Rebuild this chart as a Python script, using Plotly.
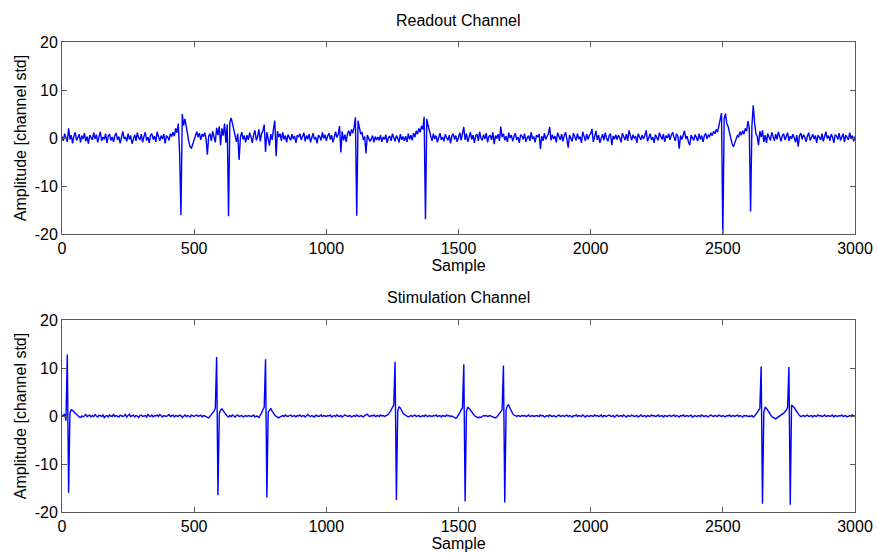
import plotly.graph_objects as go
from plotly.subplots import make_subplots

# Sample spacing of the stored traces (one value every 5 samples)
STEP = 5

# Readout channel amplitude, in units of channel std, samples 0..3000
readout = [
    0.3, -0.6, 0.9, 0.2, -0.8, 2.0, -0.3, 0.6, -1.1, 0.4, 1.2, -0.5, 0.1, 0.8, -0.9, 0.5, -0.2, 1.0, -0.7, 0.3,
    -1.2, 0.6, 0.1, -0.4, 1.1, -0.2, 0.7, -0.9, 0.3, 1.3, -0.6, 0.2, -0.3, 0.9, -1.0, 0.4, 0.8, -0.5, 0.2, -0.8,
    0.5, 1.0, -0.4, 0.3, -1.1, 0.6, 1.4, -0.2, 0.2, -0.7, 0.9, -0.3, 0.5, -1.2, 0.1, 0.7, -0.6, 1.1, 0.0, -0.4,
    0.8, -0.9, 0.3, 1.2, -0.5, 0.2, -1.0, 0.6, 0.9, -0.3, 0.4, -0.8, 1.3, 0.1, -0.6, 0.5, -0.2, 0.8, -1.1, 0.4,
    0.2, -0.5, 0.9, 0.3, 1.2, 0.4, 2.0, 1.1, 3.0, -3.2, -16.1, 5.0, 2.6, 4.0, 2.2, 0.5, -0.8, -1.9, -2.1, -1.2,
    -0.3, 0.6, 1.3, 0.2, 1.0, -0.4, 0.8, 0.3, 1.1, -0.2, -3.5, 0.4, 0.9, -0.6, 1.4, 0.2, -0.9, 2.1, 0.6, 2.4,
    -1.5, 2.0, 0.5, 3.0, -1.0, 2.8, -16.3, 3.2, 4.2, 3.0, 1.5, 0.4, -0.8, 0.9, -4.6, 0.2, 1.2, -0.3, 0.5, -0.9,
    0.6, -0.4, 1.1, 0.2, -1.0, 0.7, 1.6, -0.5, 0.3, 1.8, -0.7, 0.9, 1.5, 2.8, -2.9, 1.2, 0.1, -1.6, 0.8, -0.4,
    1.9, 3.6, -3.8, 1.4, 0.2, 0.9, -0.6, 1.2, -0.3, 0.5, -0.9, 0.7, 0.1, -0.5, 0.8, -0.2, 0.4, -1.0, 0.6, 0.2,
    0.9, -0.4, 0.3, 1.1, -0.7, 0.5, -0.2, 0.8, -0.9, 0.4, 1.0, -0.3, 0.2, -1.1, 0.6, 0.3, -0.5, 1.2, -0.1, 0.7,
    -0.6, 0.4, 1.0, -0.3, 0.6, -0.9, 0.2, 1.3, 0.1, 0.8, 2.5, -3.0, 1.4, -0.5, 0.7, -0.8, 0.9, 1.5, 0.4, 1.8,
    1.0, 2.2, 4.3, -16.2, 3.6, 2.4, 0.8, 1.2, -0.4, 0.3, -3.2, 0.6, 0.1, -0.7, -0.2, 0.5, -0.9, 0.3, -0.4, 0.2,
    -0.5, 0.6, -0.8, 0.2, -0.3, 0.7, -1.0, 0.1, 0.4, -0.6, 0.9, -0.2, -0.7, 0.5, 0.0, -0.9, 0.8, -0.4, 0.3, -0.6,
    0.4, -0.8, 0.9, -0.3, 0.6, -0.5, 1.0, 0.2, 1.5, 0.8, 2.0, 1.2, 2.5, 1.8, 4.4, -16.9, 4.0, 2.6, 1.2, 0.4,
    -0.6, 0.9, -0.2, 0.5, -0.9, 0.3, 1.0, -0.4, 0.2, -0.7, 0.8, 0.1, -0.5, 0.6, -1.1, 0.4, 0.9, -0.3, 0.5, -0.8,
    0.3, 1.1, -0.5, 0.7, 2.3, -0.4, 0.9, -0.8, 0.2, 1.2, -0.3, 0.6, -1.0, 0.4, 0.8, -0.6, 1.3, 0.0, -0.5, 0.7,
    -0.2, 1.0, -0.9, 0.3, 0.6, -0.4, 1.2, -1.3, 0.5, -0.1, 0.8, -0.6, 2.4, 0.2, 0.9, -0.5, 0.4, -0.8, 1.1, 0.0,
    0.6, -0.7, 0.3, 1.0, -0.4, 0.2, -1.0, 0.7, 0.4, -0.3, 0.9, -0.8, 0.1, 0.5, -0.6, 1.2, -0.2, 0.3, -0.9, 0.6,
    0.2, 0.8, -2.3, 0.4, -0.6, 1.0, -0.3, 0.5, 0.9, 2.3, -0.5, 0.7, -0.2, 0.4, -0.9, 1.1, 0.3, -0.4, 0.8, -0.7,
    0.5, 1.2, -0.3, -2.0, 0.6, 0.1, -0.7, 1.0, 0.4, -0.5, 0.9, -0.2, 0.3, -1.0, 1.3, 0.2, -0.6, 0.8, -0.3, 0.5,
    0.9, 1.9, -0.8, 0.3, 1.5, -0.4, 0.6, -1.0, 0.2, 0.8, -0.5, 1.1, 0.0, -0.7, 0.5, 0.9, -1.5, 0.4, -0.2, 0.7,
    -0.3, 0.6, 0.1, -0.9, 1.0, 0.3, -0.4, 0.8, -0.6, 1.6, 0.2, -0.5, 0.7, -0.1, 0.4, -1.0, 0.9, 0.2, -0.4, 0.6,
    -0.2, 0.5, 1.6, -0.7, 0.3, 0.9, -0.4, 0.2, -1.0, 0.7, 0.1, -0.5, 1.1, 0.4, -0.3, 0.8, -0.8, 0.5, 0.0, 0.9,
    -0.4, 0.6, 1.2, 0.2, -0.6, 0.9, 0.3, -2.2, 0.5, -0.3, 0.8, 1.5, -0.2, 0.4, -0.9, -1.5, 0.6, 0.1, -0.5, 0.7,
    0.2, -0.6, 0.9, -0.3, 0.5, -0.8, 0.4, 1.0, -0.2, 0.6, 0.3, 1.1, 0.5, 1.4, 0.9, 1.8, 1.2, 2.5, 3.4, 5.2,
    -20.5, 4.0, 5.1, 3.0, 2.4, 1.0, -0.3, -1.2, -1.8, -1.0, -0.4, 0.5, 0.2, 1.3, 0.6, 1.5, 0.8, 2.0, 1.4, 3.5,
    2.0, -15.3, 2.5, 6.8, 3.2, 1.0, 0.3, -1.5, 1.4, 0.2, 1.6, -0.8, 0.6, -1.0, 0.9, 0.3, -0.5, 1.2, 0.1, -0.6,
    0.8, -0.3, 1.3, 0.2, -0.7, 0.5, 0.9, -0.4, 0.3, 1.1, -0.6, 0.4, -0.2, 0.8, 0.1, -0.9, 0.6, -1.8, 0.5, 1.0,
    -0.3, 0.7, 0.2, -0.8, 0.4, 1.1, -0.5, 0.3, 0.8, -0.2, 0.5, -1.0, 0.6, 0.1, -0.4, 0.9, -0.7, 0.3, 1.3, -0.1,
    0.5, -0.6, 0.8, 0.2, -1.0, 0.7, 0.4, -0.3, 1.0, -0.5, 0.2, 0.9, -0.8, 0.6, 0.1, -0.4, 1.1, -0.2, 0.5, -0.7,
    0.3,
]

# Stimulation channel amplitude, in units of channel std, samples 0..3000
stimulation = [
    -0.1, 0.1, 0.4, -1.0, 12.8, -16.0, 0.6, 1.3, 1.2, 0.9, 0.6, 0.3, 0.1, -0.2, -0.3, 0.0, -0.2, 0.1, 0.3, -0.1,
    0.0, 0.2, -0.2, 0.1, -0.1, 0.3, 0.0, -0.2, 0.2, 0.1, -0.1, 0.2, -0.3, 0.0, 0.1, -0.2, 0.2, 0.0, -0.1, 0.3,
    -0.1, 0.1, 0.0, -0.2, 0.2, 0.1, -0.1, 0.0, 0.3, -0.2, 0.1, 0.4, -0.1, 0.0, 0.2, -0.2, 0.1, 0.0, -0.3, 0.1,
    0.2, -0.1, 0.0, 0.1, -0.2, 0.3, 0.0, -0.1, 0.2, -0.2, 0.1, 0.0, 0.2, -0.1, 0.3, 0.0, -0.2, 0.1, 0.0, -0.1,
    0.1, 0.3, -0.1, 0.0, 0.2, -0.2, 0.1, 0.0, -0.1, 0.2, 0.1, -0.3, 0.0, 0.2, -0.1, 0.1, 0.0, -0.2, 0.2, 0.0,
    -0.1, 0.1, 0.2, -0.1, 0.0, 0.2, -0.2, 0.1, 0.0, -0.2, -0.3, -0.4, -0.1, 0.3, 0.6, 1.0, 1.6, 12.3, -16.5, 0.5,
    1.2, 1.5, 1.1, 0.6, 0.3, 0.0, -0.2, 0.1, -0.1, 0.2, 0.0, -0.2, 0.1, 0.2, -0.1, 0.0, 0.1, -0.2, 0.0, 0.1,
    -0.1, 0.1, 0.0, -0.1, 0.0, 0.2, -0.2, 0.0, -0.1, -0.3, 0.2, 0.6, 1.3, 1.8, 11.8, -17.0, 0.8, 1.3, 1.6, 1.0,
    0.5, 0.2, -0.1, -0.3, -0.4, -0.2, 0.0, 0.1, -0.1, 0.2, 0.0, -0.1, 0.1, 0.2, -0.1, 0.0, 0.1, -0.2, 0.1, 0.0,
    0.2, -0.1, 0.0, 0.1, -0.2, 0.1, 0.3, 0.0, -0.1, 0.1, 0.0, -0.2, 0.2, 0.1, -0.1, 0.0, 0.2, -0.1, 0.1, 0.0,
    -0.1, 0.1, 0.0, 0.2, -0.2, 0.0, 0.1, -0.1, 0.2, 0.0, -0.1, 0.1, -0.2, 0.0, 0.2, 0.1, -0.1, 0.0, 0.1, -0.2,
    0.0, 0.1, -0.1, 0.2, 0.0, -0.1, 0.1, 0.0, -0.2, 0.1, 0.2, 0.4, 0.0, -0.1, 0.1, 0.0, 0.2, -0.1, 0.0, 0.1,
    -0.1, 0.2, 0.0, 0.1, -0.1, 0.0, 0.2, 0.4, 0.7, 1.2, 1.8, 2.3, 11.3, -17.5, 1.0, 1.9, 1.7, 1.1, 0.6, 0.3,
    0.1, -0.1, -0.2, 0.0, 0.1, -0.1, 0.0, 0.2, -0.1, 0.0, 0.1, -0.2, 0.0, 0.1, -0.1, 0.2, 0.0, -0.1, 0.1, 0.0,
    -0.1, 0.1, 0.0, 0.2, -0.1, 0.0, 0.1, -0.2, 0.1, 0.0, -0.1, 0.2, 0.0, 0.1, -0.1, 0.0, -0.2, -0.4, -0.5, -0.2,
    0.2, 0.7, 1.3, 1.6, 10.8, -17.8, 1.0, 1.8, 1.6, 1.2, 0.8, 0.4, 0.1, -0.1, -0.3, -0.4, -0.2, -0.3, -0.1, 0.1,
    0.0, 0.1, -0.1, 0.0, 0.1, -0.1, -0.2, -0.3, -0.4, -0.2, 0.1, 0.5, 0.9, 1.3, 10.5, -18.0, 1.2, 2.2, 2.3, 1.6,
    1.0, 0.5, 0.2, 0.0, -0.1, 0.1, 0.0, -0.1, 0.1, 0.0, 0.1, -0.1, 0.0, 0.2, -0.1, 0.0, 0.1, -0.1, 0.0, 0.1,
    0.0, -0.1, 0.2, 0.0, 0.1, -0.2, 0.0, 0.1, -0.1, 0.2, 0.0, -0.1, 0.1, 0.0, -0.2, 0.1, 0.2, -0.1, 0.0, 0.1,
    -0.1, 0.0, 0.2, -0.1, 0.1, 0.0, -0.2, 0.1, 0.0, 0.2, -0.1, 0.1, 0.0, -0.1, 0.2, 0.0, -0.2, 0.1, 0.0, -0.1,
    0.1, 0.0, -0.1, 0.2, 0.0, 0.1, -0.1, 0.0, 0.2, -0.2, 0.1, 0.0, -0.1, 0.1, 0.2, 0.0, -0.1, 0.1, -0.2, 0.0,
    0.2, -0.1, 0.0, 0.1, -0.1, 0.2, 0.0, -0.2, 0.1, 0.0, -0.1, 0.2, 0.1, -0.1, 0.0, 0.1, -0.2, 0.0, 0.2, -0.1,
    0.0, 0.1, -0.2, 0.1, 0.0, -0.1, 0.2, 0.0, 0.1, -0.1, 0.0, 0.2, -0.1, 0.0, 0.1, -0.2, 0.1, 0.0, -0.1, 0.1,
    0.1, -0.1, 0.0, 0.2, -0.1, 0.1, 0.0, -0.2, 0.1, 0.0, 0.2, -0.1, 0.0, 0.1, -0.1, 0.0, 0.2, -0.2, 0.0, 0.1,
    -0.1, 0.0, 0.1, -0.1, 0.2, 0.0, -0.1, 0.1, 0.0, -0.2, 0.1, 0.2, 0.0, -0.1, 0.1, 0.0, -0.1, 0.2, 0.0, -0.1,
    0.1, 0.0, -0.2, 0.1, 0.0, 0.2, -0.1, 0.0, 0.1, -0.1, 0.0, 0.2, -0.1, 0.1, 0.0, -0.2, 0.1, 0.0, 0.1, -0.1,
    0.0, -0.1, 0.1, -0.2, 0.0, 0.3, 0.7, 1.2, 1.6, 10.3, -18.3, 0.8, 1.8, 1.6, 1.1, 0.6, 0.2, -0.1, -0.3, -0.5,
    -0.6, -0.4, -0.2, -0.1, 0.1, 0.3, 0.6, 0.9, 1.2, 1.8, 10.2, -18.5, 2.3, 2.0, 1.8, 1.3, 0.8, 0.4, 0.1, -0.1,
    0.0, 0.1, -0.1, 0.0, 0.2, -0.1, 0.0, 0.1, -0.2, 0.1, 0.0, -0.1, 0.2, 0.0, 0.1, -0.1, 0.0, 0.2, -0.1, 0.0,
    0.1, -0.1, 0.0, 0.2, -0.2, 0.1, 0.0, -0.1, 0.1, 0.0, 0.2, -0.1, 0.0, 0.1, -0.2, 0.0, 0.1, -0.1, 0.2, 0.0,
    0.0,
]

sample_ticks = [0, 500, 1000, 1500, 2000, 2500, 3000]
amp_ticks = [-20, -10, 0, 10, 20]
panel_titles = ["Readout Channel", "Stimulation Channel"]

samples_readout = [i * STEP for i in range(len(readout))]
samples_stim = [i * STEP for i in range(len(stimulation))]

FONT = "Liberation Sans, Arial, Helvetica, sans-serif"
AXIS_GREY = "#5a5a5a"

fig = make_subplots(rows=2, cols=1)

fig.add_trace(go.Scatter(x=samples_readout, y=readout, mode="lines",
                         line=dict(color="#0000ff", width=1.4), showlegend=False),
              row=1, col=1)
fig.add_trace(go.Scatter(x=samples_stim, y=stimulation, mode="lines",
                         line=dict(color="#0000ff", width=1.4), showlegend=False),
              row=2, col=1)

axis_common = dict(
    showgrid=False, zeroline=False, showline=True, mirror="ticks",
    linecolor=AXIS_GREY, linewidth=1, ticks="inside", ticklen=5,
    tickcolor=AXIS_GREY, tickwidth=1, automargin=False,
    tickfont=dict(family=FONT, size=16, color="black"),
)

for r in (1, 2):
    fig.update_xaxes(range=[0, 3000], tickvals=sample_ticks,
                     ticktext=[str(t) for t in sample_ticks],
                     title=dict(text="Sample", font=dict(family=FONT, size=16, color="black"),
                                standoff=0),
                     **axis_common, row=r, col=1)
    fig.update_yaxes(range=[-20, 20], tickvals=amp_ticks,
                     ticktext=[str(t) for t in amp_ticks],
                     title=dict(text="Amplitude [channel std]",
                                font=dict(family=FONT, size=16, color="black"),
                                standoff=4),
                     **axis_common, row=r, col=1)

fig.update_layout(
    width=877, height=553,
    margin=dict(l=62, r=22, t=42, b=41),
    paper_bgcolor="white", plot_bgcolor="white",
    font=dict(family=FONT, color="black"),
    xaxis=dict(domain=[0, 1]), xaxis2=dict(domain=[0, 1]),
    yaxis=dict(domain=[0.5915, 1.0]), yaxis2=dict(domain=[0.0, 0.4085]),
)

# Panel titles centred above each axes box
for text, y in zip(panel_titles, [1.0468, 0.4574]):
    fig.add_annotation(text=text, x=0.5, y=y, xref="paper", yref="paper",
                       xanchor="center", yanchor="middle", showarrow=False,
                       font=dict(family=FONT, size=16, color="black"))

fig.write_html("out.html")
